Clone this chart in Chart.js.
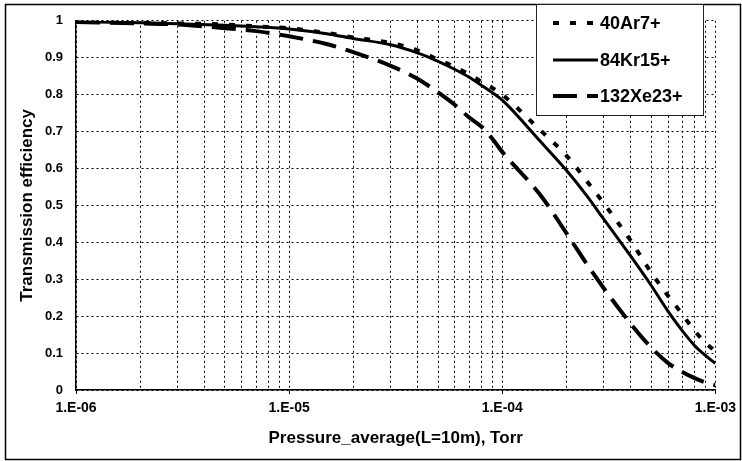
<!DOCTYPE html>
<html>
<head>
<meta charset="utf-8">
<script src="https://cdn.jsdelivr.net/npm/chart.js@4"></script>
<style>
  body { margin: 0; background: #fff; }
  canvas { display: block; }
</style>
</head>
<body>
<canvas id="chart" width="742" height="461"></canvas>
<script>
const pressure = [1e-6, 2e-6, 3e-6, 5e-6, 7e-6, 1e-5, 1.5e-5, 2e-5, 3e-5, 4e-5, 5e-5, 6e-5, 7e-5, 8e-5, 9e-5,
    1e-4, 1.5e-4, 2e-4, 2.5e-4, 3e-4, 4e-4, 5e-4, 6e-4, 7e-4, 8e-4, 9e-4, 1e-3];

const ar40 = [0.998, 0.995, 0.993, 0.99, 0.985, 0.98, 0.967, 0.955, 0.94, 0.92, 0.895, 0.875, 0.855, 0.835, 0.818,
    0.80, 0.705, 0.635, 0.565, 0.505, 0.405, 0.318, 0.255, 0.205, 0.16, 0.128, 0.105];
const kr84 = [0.998, 0.995, 0.992, 0.988, 0.984, 0.978, 0.965, 0.952, 0.935, 0.913, 0.89, 0.868, 0.847, 0.825, 0.805,
    0.785, 0.675, 0.595, 0.525, 0.462, 0.363, 0.283, 0.213, 0.16, 0.12, 0.093, 0.072];
const xe132 = [0.997, 0.993, 0.99, 0.98, 0.972, 0.958, 0.937, 0.915, 0.878, 0.843, 0.806, 0.772, 0.738, 0.713, 0.68,
    0.645, 0.53, 0.425, 0.34, 0.275, 0.18, 0.115, 0.073, 0.049, 0.032, 0.02, 0.013];

const seriesNames = ['40Ar7+', '84Kr15+', '132Xe23+'];
const decades = [1e-6, 1e-5, 1e-4, 1e-3];
const yTicks = [0, 0.1, 0.2, 0.3, 0.4, 0.5, 0.6, 0.7, 0.8, 0.9, 1];

const FONT = "'Liberation Sans', Arial, sans-serif";

function pts(vals) {
    return pressure.map((p, i) => ({x: p, y: vals[i]}));
}

function expLabel(v) {
    const e = Math.round(Math.log10(v));
    return '1.E' + (e < 0 ? '-' : '+') + String(Math.abs(e)).padStart(2, '0');
}

function isDecade(v) {
    return decades.some(d => Math.abs(v - d) / d < 1e-6);
}

// grid lines at 1..9 of every decade
function logGrid() {
    const out = [];
    for (let i = 0; i < decades.length - 1; i++) {
        for (let k = 1; k < 10; k++) out.push(decades[i] * k);
    }
    out.push(decades[decades.length - 1]);
    return out;
}

const frame = {
    id: 'frame',
    beforeDraw(chart) {
        const c = chart.ctx;
        c.save();
        c.fillStyle = '#fff';
        c.fillRect(0, 0, chart.width, chart.height);
        c.restore();
    },
    afterDraw(chart) {
        const c = chart.ctx;
        c.save();
        // outer border
        c.strokeStyle = '#000';
        c.lineWidth = 1.5;
        c.strokeRect(5.5, 4.5, 735, 455);

        // legend box
        c.fillStyle = '#fff';
        c.fillRect(536, 4, 167, 111);
        c.lineWidth = 1;
        c.strokeStyle = '#222';
        c.strokeRect(536.5, 4.5, 167, 111);

        const rows = [23, 60, 96];
        chart.data.datasets.forEach((ds, i) => {
            const y = rows[i];
            c.save();
            c.strokeStyle = '#000';
            c.lineWidth = ds.borderWidth;
            c.setLineDash(ds.borderDash || []);
            c.beginPath();
            c.moveTo(553, y);
            c.lineTo(598, y);
            c.stroke();
            c.restore();
            c.fillStyle = '#000';
            c.font = 'bold 18px ' + FONT;
            c.textBaseline = 'middle';
            c.textAlign = 'left';
            c.fillText(ds.label, 600, y + 1);
        });
        c.restore();
    }
};

const config = {
    type: 'line',
    data: {
        datasets: [{
            label: seriesNames[0],
            data: pts(ar40),
            borderColor: '#000',
            borderWidth: 4,
            borderDash: [6, 11],
            pointRadius: 0,
            cubicInterpolationMode: 'monotone'
        }, {
            label: seriesNames[1],
            data: pts(kr84),
            borderColor: '#000',
            borderWidth: 3,
            pointRadius: 0,
            cubicInterpolationMode: 'monotone'
        }, {
            label: seriesNames[2],
            data: pts(xe132),
            borderColor: '#000',
            borderWidth: 4,
            borderDash: [24, 10],
            pointRadius: 0,
            cubicInterpolationMode: 'monotone'
        }]
    },
    options: {
        responsive: false,
        animation: false,
        layout: {
            padding: {left: 0, top: 18, right: 20, bottom: 0}
        },
        plugins: {
            legend: {display: false},
            tooltip: {enabled: false}
        },
        scales: {
            x: {
                type: 'logarithmic',
                min: decades[0],
                max: decades[decades.length - 1],
                afterBuildTicks: scale => {
                    scale.ticks = logGrid().map(v => ({value: v, major: isDecade(v)}));
                },
                afterFit: scale => { scale.height = 71; },
                ticks: {
                    autoSkip: false,
                    maxRotation: 0,
                    padding: 6,
                    color: '#000',
                    font: {family: FONT, size: 14, weight: 'bold'},
                    callback: v => isDecade(v) ? expLabel(v) : ''
                },
                grid: {
                    color: '#000',
                    lineWidth: 1,
                    drawTicks: true,
                    tickLength: 4,
                    tickColor: ctx => (ctx.tick && isDecade(ctx.tick.value)) ? '#000' : 'rgba(0,0,0,0)'
                },
                border: {display: true, color: '#000', width: 1.5, dash: [2, 3]},
                title: {
                    display: true,
                    text: 'Pressure_average(L=10m), Torr',
                    color: '#000',
                    font: {family: FONT, size: 17, weight: 'bold'},
                    padding: {top: 0, bottom: 12}
                }
            },
            y: {
                min: 0,
                max: 1,
                afterBuildTicks: scale => {
                    scale.ticks = yTicks.map(v => ({value: v}));
                },
                afterFit: scale => { scale.width = 76; },
                ticks: {
                    padding: 13,
                    color: '#000',
                    font: {family: FONT, size: 13, weight: 'bold'},
                    callback: v => String(Number(v.toFixed(1)))
                },
                grid: {
                    color: '#000',
                    lineWidth: 1,
                    drawTicks: false
                },
                border: {display: true, color: '#000', width: 1.5, dash: [2, 3]},
                title: {
                    display: true,
                    text: 'Transmission efficiency',
                    color: '#000',
                    font: {family: FONT, size: 17, weight: 'bold'},
                    padding: {top: 17, bottom: 0}
                }
            }
        }
    },
    plugins: [frame]
};

const myChart = new Chart(document.getElementById('chart'), config);
</script>
</body>
</html>
